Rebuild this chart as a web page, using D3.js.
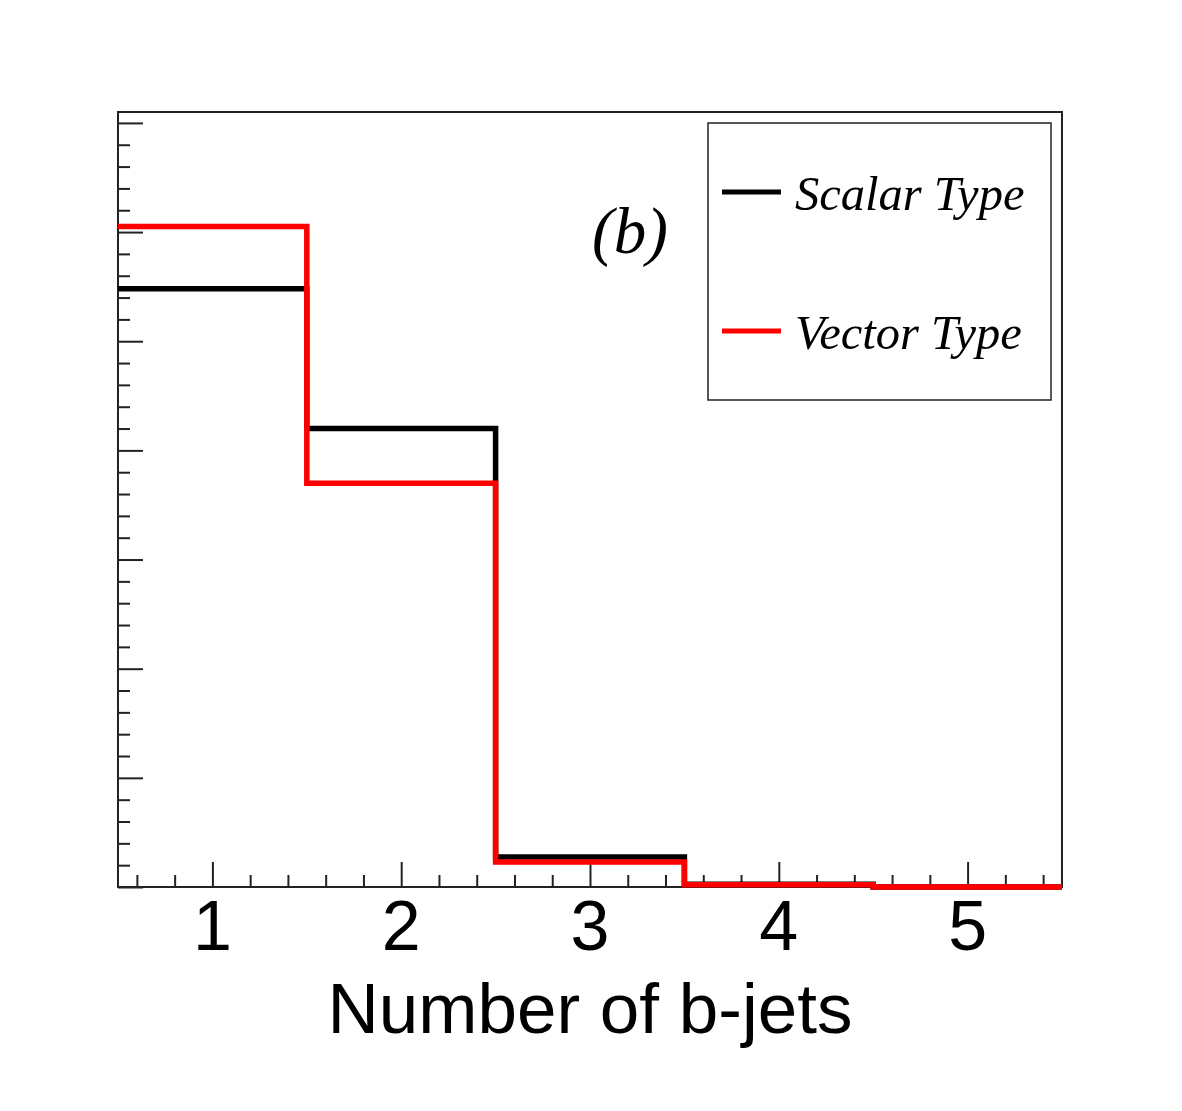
<!DOCTYPE html>
<html>
<head>
<meta charset="utf-8">
<script src="https://cdn.jsdelivr.net/npm/d3@7"></script>
<style>
  body { margin: 0; background: #fff; }
  svg { display: block; }
</style>
</head>
<body>
<div id="chart"></div>
<script>
// bin centres (number of b-jets) and normalised contents
const bins = [1, 2, 3, 4, 5];
const scalarType = [0.548, 0.420, 0.0275, 0.0025, 0.0];
const vectorType = [0.605, 0.370, 0.023, 0.002, 0.0];
const xTickLabels = ["1", "2", "3", "4", "5"];
const legendLabels = ["Scalar Type", "Vector Type"];

const drawChart = () => {
  const width = 1182;
  const height = 1111;
  const frame = {left: 118, right: 1062, top: 112, bottom: 887};

  const x = d3.scaleLinear()
      .domain([0.5, 5.5])
      .range([frame.left, frame.right]);

  const y = d3.scaleLinear()
      .domain([0, 0.71])
      .range([frame.bottom, frame.top]);

  const svg = d3.select("#chart")
      .append("svg")
      .attr("width", width)
      .attr("height", height);

  // frame
  svg.append("rect")
      .attr("x", frame.left)
      .attr("y", frame.top)
      .attr("width", frame.right - frame.left)
      .attr("height", frame.bottom - frame.top)
      .attr("fill", "none")
      .attr("stroke", "#222")
      .attr("stroke-width", 2);

  // x axis: major ticks at integers, minor every 0.2
  const xMinor = d3.range(0.6, 5.5, 0.2).filter(v => Math.abs(v - Math.round(v)) > 0.01);
  svg.append("g")
      .attr("transform", `translate(0,${frame.bottom})`)
      .call(d3.axisTop(x).tickValues(xMinor).tickSize(12).tickFormat(""))
      .call(g => g.select(".domain").remove());
  svg.append("g")
      .attr("transform", `translate(0,${frame.bottom})`)
      .call(d3.axisTop(x).tickValues(bins).tickSize(25).tickFormat(""))
      .call(g => g.select(".domain").remove());
  svg.selectAll(".tick line").attr("stroke", "#222").attr("stroke-width", 2);

  svg.append("g")
      .selectAll("text")
      .data(bins)
      .join("text")
      .attr("x", d => x(d))
      .attr("y", 950)
      .attr("text-anchor", "middle")
      .attr("font-family", "'Liberation Sans', Arial, sans-serif")
      .attr("font-size", 70)
      .text((d, i) => xTickLabels[i]);

  // y axis: no labels, major every 0.1, minor every 0.02
  const yMajor = d3.range(0, 0.71, 0.1);
  const yMinor = d3.range(0, 0.71, 0.02).filter(v => Math.abs(v * 10 - Math.round(v * 10)) > 0.01);
  const yAxisMinor = svg.append("g")
      .attr("transform", `translate(${frame.left},0)`)
      .call(d3.axisRight(y).tickValues(yMinor).tickSize(12).tickFormat(""));
  const yAxisMajor = svg.append("g")
      .attr("transform", `translate(${frame.left},0)`)
      .call(d3.axisRight(y).tickValues(yMajor).tickSize(25).tickFormat(""));
  [yAxisMinor, yAxisMajor].forEach(g => {
    g.select(".domain").remove();
    g.selectAll(".tick line").attr("stroke", "#222").attr("stroke-width", 2);
  });

  // histograms drawn as steps
  const step = d3.line()
      .x(d => x(d[0]))
      .y(d => y(d[1]))
      .curve(d3.curveStepAfter);
  const toSteps = vals => vals.map((v, i) => [bins[i] - 0.5, v])
      .concat([[bins[bins.length - 1] + 0.5, vals[vals.length - 1]]]);

  const series = [
    {name: legendLabels[0], values: scalarType, color: "#000"},
    {name: legendLabels[1], values: vectorType, color: "#ff0000"}
  ];

  svg.selectAll("path.hist")
      .data(series)
      .join("path")
      .attr("class", "hist")
      .attr("d", s => step(toSteps(s.values)))
      .attr("fill", "none")
      .attr("stroke", s => s.color)
      .attr("stroke-width", 5.5);

  // label (b)
  svg.append("text")
      .attr("x", 592)
      .attr("y", 253)
      .attr("font-family", "'Liberation Serif', 'Times New Roman', serif")
      .attr("font-style", "italic")
      .attr("font-size", 65)
      .text("(b)");

  // legend
  const legend = svg.append("g");
  legend.append("rect")
      .attr("x", 708)
      .attr("y", 123)
      .attr("width", 1051 - 708)
      .attr("height", 400 - 123)
      .attr("fill", "#fff")
      .attr("stroke", "#222")
      .attr("stroke-width", 1.5);

  const rows = legend.selectAll("g.row")
      .data(series)
      .join("g")
      .attr("class", "row")
      .attr("transform", (d, i) => `translate(0,${192 + i * 139})`);
  rows.append("line")
      .attr("x1", 722)
      .attr("x2", 781)
      .attr("stroke", d => d.color)
      .attr("stroke-width", 5);
  rows.append("text")
      .attr("x", 795)
      .attr("y", 18)
      .attr("font-family", "'Liberation Serif', 'Times New Roman', serif")
      .attr("font-style", "italic")
      .attr("font-size", 48.5)
      .text(d => d.name);

  // axis title
  svg.append("text")
      .attr("x", (frame.left + frame.right) / 2)
      .attr("y", 1033)
      .attr("text-anchor", "middle")
      .attr("font-family", "'Liberation Sans', Arial, sans-serif")
      .attr("font-size", 71)
      .text("Number of b-jets");
};

window.onload = drawChart;
</script>
</body>
</html>
